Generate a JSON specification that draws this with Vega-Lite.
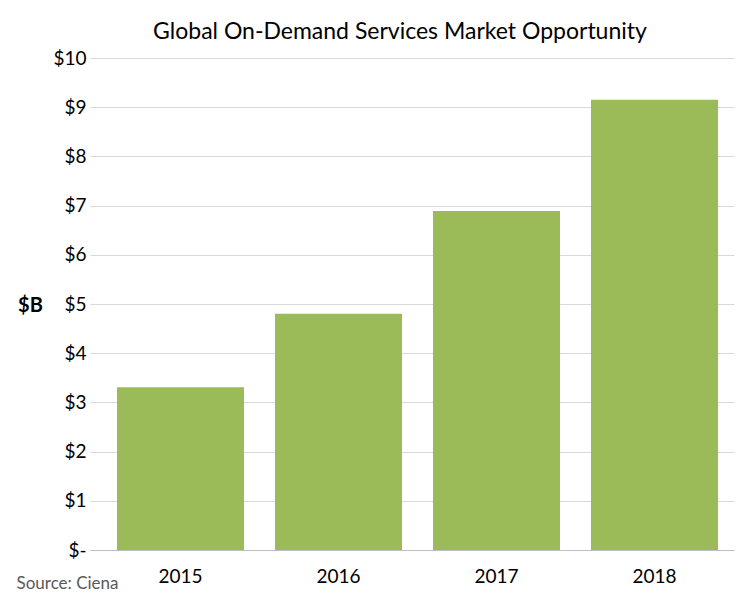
{
  "$schema": "https://vega.github.io/schema/vega-lite/v6.json",
  "autosize": {"type": "none"},
  "width": 644,
  "height": 492,
  "padding": {"left": 90, "top": 58, "right": 12, "bottom": 57},
  "background": "white",
  "title": {
    "text": "Global On-Demand Services Market Opportunity",
    "font": "Lato",
    "fontSize": 23,
    "fontWeight": "normal",
    "color": "#000000",
    "anchor": "middle",
    "dx": -12,
    "offset": 5
  },
  "data": {
    "values": [
      {"year": "2015", "value": 3.31},
      {"year": "2016", "value": 4.8},
      {"year": "2017", "value": 6.89},
      {"year": "2018", "value": 9.15}
    ]
  },
  "mark": {"type": "bar", "color": "#9BBB59"},
  "encoding": {
    "x": {
      "field": "year",
      "type": "ordinal",
      "scale": {"paddingInner": 0.196, "paddingOuter": 0.136, "align": 0.628},
      "axis": {
        "title": "Source: Ciena",
        "titleFont": "Lato",
        "titleFontSize": 17,
        "titleFontWeight": "normal",
        "titleColor": "#595959",
        "titleX": -74,
        "titleY": 33,
        "titleAlign": "left",
        "titleBaseline": "middle",
        "labelAngle": 0,
        "labelFont": "Lato",
        "labelFontSize": 19,
        "labelColor": "#000000",
        "labelPadding": 17,
        "ticks": false,
        "domainColor": "#BFBFBF",
        "domainWidth": 1
      }
    },
    "y": {
      "field": "value",
      "type": "quantitative",
      "scale": {"domain": [0, 10], "nice": false},
      "axis": {
        "values": [0, 1, 2, 3, 4, 5, 6, 7, 8, 9, 10],
        "labelExpr": "datum.value == 0 ? '$-' : '$' + datum.value",
        "title": "$B",
        "titleAngle": 0,
        "titleFont": "Lato",
        "titleFontSize": 20,
        "titleFontWeight": "bold",
        "titleColor": "#000000",
        "titleX": -60,
        "titleY": 247,
        "titleAlign": "center",
        "titleBaseline": "middle",
        "labelFont": "Lato",
        "labelFontSize": 19,
        "labelColor": "#000000",
        "labelPadding": 4,
        "ticks": false,
        "domain": false,
        "grid": true,
        "gridColor": "#D9D9D9",
        "gridWidth": 1
      }
    }
  },
  "config": {
    "view": {"stroke": null}
  }
}
